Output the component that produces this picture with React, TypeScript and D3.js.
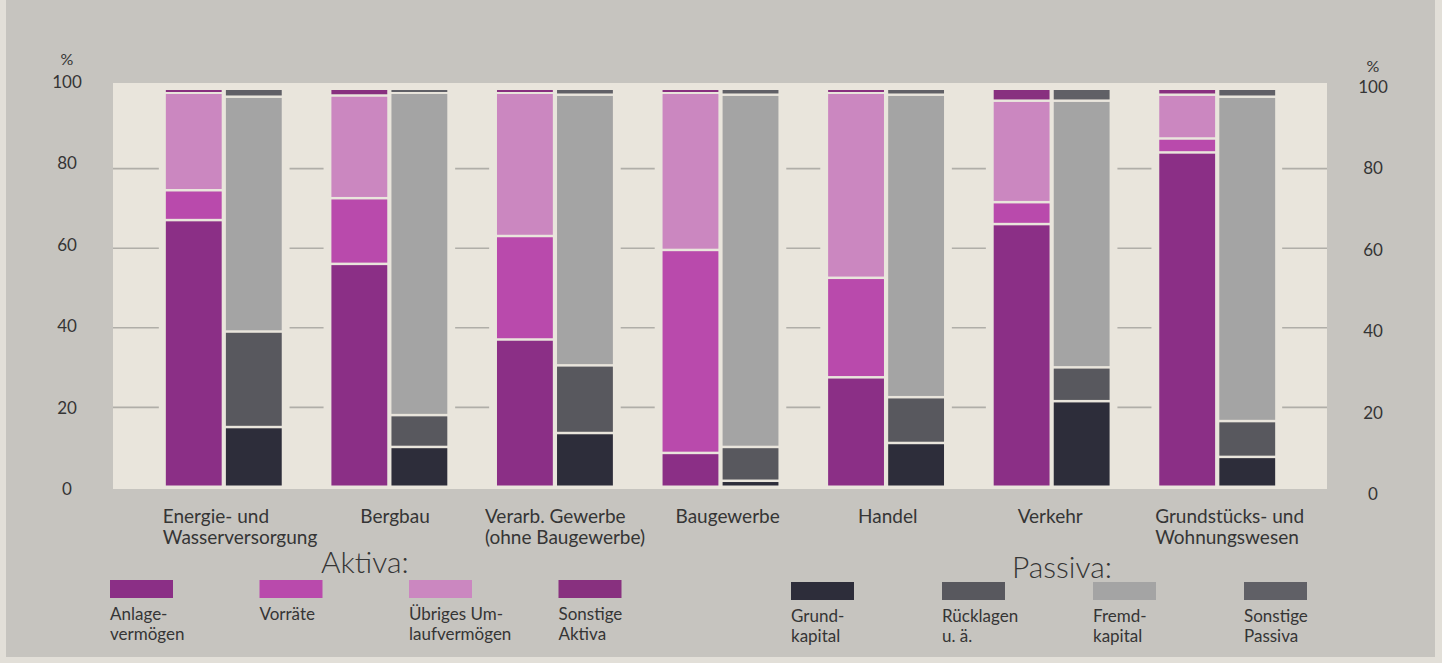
import React from 'react';
import { scaleBand, scaleLinear, stack } from 'd3';

// Branchen
const categories = [
  ['Energie- und', 'Wasserversorgung'],
  ['Bergbau'],
  ['Verarb. Gewerbe', '(ohne Baugewerbe)'],
  ['Baugewerbe'],
  ['Handel'],
  ['Verkehr'],
  ['Grundstücks- und', 'Wohnungswesen'],
];

// Aktiva in %
const anlage = [67, 56, 37, 8.5, 27.5, 66, 84];
const vorraete = [7.5, 16.5, 26, 51, 25, 5.5, 3.5];
const uebriges = [24.5, 25.8, 36, 39.5, 46.5, 25.5, 11];
const sonstigeAktiva = [1, 1.7, 1, 1, 1, 3, 1.5];

// Passiva in %
const grundkapital = [15, 10, 13.5, 1.5, 11, 21.5, 7.5];
const ruecklagen = [24, 8, 17, 8.5, 11.5, 8.5, 9];
const fremdkapital = [59, 81, 68, 88.5, 76, 67, 81.5];
const sonstigePassiva = [2, 1, 1.5, 1.5, 1.5, 3, 2];

const yTicks = [0, 20, 40, 60, 80, 100];

const aktivaLegend = [
  ['Anlage-', 'vermögen'],
  ['Vorräte'],
  ['Übriges Um-', 'laufvermögen'],
  ['Sonstige', 'Aktiva'],
];
const passivaLegend = [
  ['Grund-', 'kapital'],
  ['Rücklagen', 'u. ä.'],
  ['Fremd-', 'kapital'],
  ['Sonstige', 'Passiva'],
];

const aktivaColors = ['#8b2f86', '#b94aac', '#cb87c0', '#88307f'];
const passivaColors = ['#2d2d3a', '#58585e', '#a4a4a4', '#606066'];

// label x offset from group centre (text is left aligned)
const labelDx = [-61, -29, -70, -45, -28, -34, -62];

const W = 1442;
const H = 663;
const FONT = 'Lato, "Open Sans", sans-serif';
const TEXT = '#353535';
const PANEL = '#e9e5dc';

export default function App() {
  const x = scaleBand<number>()
    .domain(categories.map((_, i) => i))
    .range([141, 1300])
    .paddingInner(0.3)
    .paddingOuter(0.15);
  const side = scaleBand<string>()
    .domain(['A', 'P'])
    .range([0, x.bandwidth()])
    .paddingInner(0.07);
  const y = scaleLinear().domain([0, 100]).range([487, 89]);
  // the printed tick numbers sit on a slightly wider spacing than the bars
  const yLabel = scaleLinear().domain([0, 100]).range([489, 81.5]);

  const aRows = categories.map((_, i) => ({
    k0: anlage[i],
    k1: vorraete[i],
    k2: uebriges[i],
    k3: sonstigeAktiva[i],
  }));
  const pRows = categories.map((_, i) => ({
    k0: grundkapital[i],
    k1: ruecklagen[i],
    k2: fremdkapital[i],
    k3: sonstigePassiva[i],
  }));
  const keys = ['k0', 'k1', 'k2', 'k3'];
  const aStack = stack<any>().keys(keys)(aRows);
  const pStack = stack<any>().keys(keys)(pRows);

  const panel = { x0: 113, x1: 1327, y0: 83, y1: 489 };
  const gap = x.step() - x.bandwidth();

  const renderStack = (series: any[], colors: string[], sideKey: string) =>
    series.map((s, si) =>
      s.map((d: any, i: number) => {
        const top = y(d[1]) + 1;
        const h = Math.max(2, y(d[0]) - y(d[1]) - 2.5);
        return (
          <rect
            key={`${sideKey}-${si}-${i}`}
            x={(x(i) as number) + (side(sideKey) as number)}
            y={top}
            width={side.bandwidth()}
            height={h}
            fill={colors[si]}
          />
        );
      })
    );

  const dashes: React.ReactNode[] = [];
  const dashStroke = { stroke: '#b0aea8', strokeWidth: 1.6 };
  yTicks
    .filter((t) => t > 0 && t < 100)
    .forEach((t) => {
      const first = x(0) as number;
      const last = (x(categories.length - 1) as number) + x.bandwidth();
      dashes.push(<line key={`l${t}`} x1={panel.x0} x2={first - 7} y1={y(t)} y2={y(t)} {...dashStroke} />);
      dashes.push(<line key={`r${t}`} x1={last + 7} x2={panel.x1} y1={y(t)} y2={y(t)} {...dashStroke} />);
      for (let i = 0; i < categories.length - 1; i++) {
        const c = (x(i) as number) + x.bandwidth() + gap / 2;
        dashes.push(<line key={`m${t}-${i}`} x1={c - 17} x2={c + 17} y1={y(t)} y2={y(t)} {...dashStroke} />);
      }
    });

  const legend = (
    items: string[][],
    colors: string[],
    x0: number,
    step: number,
    swatchY: number,
    prefix: string
  ) =>
    items.map((lines, i) => (
      <g key={prefix + i} transform={`translate(${x0 + i * step},0)`}>
        <rect x={0} y={swatchY} width={63} height={18} fill={colors[i]} />
        <text fontSize={17} fill={TEXT}>
          {lines.map((ln, j) => (
            <tspan key={j} x={0} y={swatchY + 40 + j * 19.5}>
              {ln}
            </tspan>
          ))}
        </text>
      </g>
    ));

  return (
    <div style={{ position: 'absolute', left: 0, top: 0, width: W, height: H }}>
      <svg width={W} height={H} style={{ display: 'block', fontFamily: FONT }}>
        <rect width={W} height={H} fill="#e2dfd8" />
        <rect x={6} y={0} width={1429} height={657} fill="#c6c4bf" />
        <rect x={panel.x0} y={panel.y0} width={panel.x1 - panel.x0} height={panel.y1 - panel.y0} fill={PANEL} />

        {dashes}

        {renderStack(aStack, aktivaColors, 'A')}
        {renderStack(pStack, passivaColors, 'P')}

        {/* y axes */}
        <text x={67} y={65} fontSize={16} textAnchor="middle" fill={TEXT}>%</text>
        <text x={1373} y={72} fontSize={16} textAnchor="middle" fill={TEXT}>%</text>
        {yTicks.map((t) => (
          <g key={t}>
            <text x={67} y={yLabel(t) + 6} fontSize={17} textAnchor="middle" fill={TEXT}>
              {t}
            </text>
            <text x={1373} y={yLabel(t) + 11} fontSize={17} textAnchor="middle" fill={TEXT}>
              {t}
            </text>
          </g>
        ))}

        {/* category labels */}
        {categories.map((lines, i) => {
          const cx = (x(i) as number) + x.bandwidth() / 2 + labelDx[i];
          return (
            <text key={i} fontSize={19} fill={TEXT}>
              {lines.map((ln, j) => (
                <tspan key={j} x={cx} y={523 + j * 21}>
                  {ln}
                </tspan>
              ))}
            </text>
          );
        })}

        {/* legend */}
        <text x={321} y={573} fontSize={30} fontWeight={300} fill={TEXT}>Aktiva:</text>
        <text x={1012} y={578} fontSize={30} fontWeight={300} fill={TEXT}>Passiva:</text>
        {legend(aktivaLegend, aktivaColors, 110, 149.5, 580, 'a')}
        {legend(passivaLegend, passivaColors, 791, 151, 582, 'p')}
      </svg>
    </div>
  );
}
